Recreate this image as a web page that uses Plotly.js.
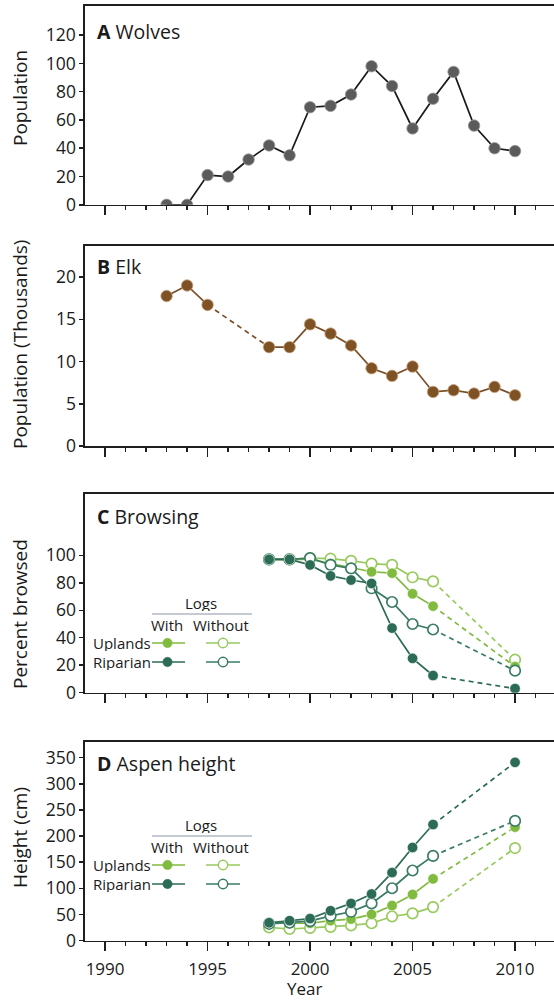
<!DOCTYPE html>
<html>
<head>
<meta charset="utf-8">
<script src="https://cdn.plot.ly/plotly-3.0.1.min.js"></script>
<style>html,body{margin:0;padding:0;background:#fff;}#chart{width:554px;height:1000px;}</style>
</head>
<body>
<div id="chart"></div>
<script>
// ---------- data ----------
const wolfYears = [1993,1994,1995,1996,1997,1998,1999,2000,2001,2002,2003,2004,2005,2006,2007,2008,2009,2010];
const wolfPop   = [0,0,21,20,32,42,35,69,70,78,98,84,54,75,94,56,40,38];

const elkYears = [1993,1994,1995,1996,1997,1998,1999,2000,2001,2002,2003,2004,2005,2006,2007,2008,2009,2010];
const elkPop   = [17.75,19.0,16.7,null,null,11.7,11.7,14.4,13.3,11.9,9.2,8.3,9.4,6.4,6.6,6.2,7.0,6.0];

const aspenYears = [1998,1999,2000,2001,2002,2003,2004,2005,2006,2010];

const browseUplandsWith     = [97,97,97,94,91,88,87,72,63,19];
const browseUplandsWithout  = [97,97,98,97.5,96,94,93,84,81,24];
const browseRiparianWith    = [97,97,93,85,82,79.5,47,25,12.5,3];
const browseRiparianWithout = [97,97,98,93,90.5,76,66,50,46,16];

const heightUplandsWith     = [35,33,33,38,41,50,67,88,118,217];
const heightUplandsWithout  = [25,22,24,26,29,33,46,52,64,177];
const heightRiparianWith    = [34,38,42,57,71,89,130,178,222,341];
const heightRiparianWithout = [32,34,37,47,55,71,100,134,162,229];

const yTicksA = [0,20,40,60,80,100,120];
const yTicksB = [0,5,10,15,20];
const yTicksC = [0,20,40,60,80,100];
const yTicksD = [0,50,100,150,200,250,300,350];
const xTicks  = [1990,1995,2000,2005,2010];

// ---------- styles ----------
const FONT = 'Open Sans, Noto Sans, sans-serif';
const AX = '#1e1e1e';
const DARK = '#2c6b55';
const DARK2 = '#3b7c66';
const LIGHT = '#80ba3e';
const LIGHT2 = '#98ca5e';
const W = 554, H = 1000;

function px(x){ return x / W; }
function py(y){ return 1 - y / H; }

const traces = [];

// Wolves
traces.push({x: wolfYears, y: wolfPop, xaxis:'x', yaxis:'y', mode:'lines+markers',
  line:{color:'#1a1a1a', width:1.7},
  marker:{size:11.5, color:'#5b5b5b', line:{color:'#9a9a9a', width:0.8}}});

// Elk: solid with gap, dashed across gap
traces.push({x: elkYears, y: elkPop, xaxis:'x2', yaxis:'y2', mode:'lines', connectgaps:false,
  line:{color:'#7a4f27', width:1.7}});
(function(){
  const gx = [], gy = [];
  for (let i = 1; i < elkPop.length; i++) {
    if (elkPop[i] === null && elkPop[i-1] !== null) { gx.push(elkYears[i-1]); gy.push(elkPop[i-1]); }
    if (elkPop[i] !== null && elkPop[i-1] === null) { gx.push(elkYears[i]); gy.push(elkPop[i]); }
  }
  traces.push({x: gx, y: gy, xaxis:'x2', yaxis:'y2', mode:'lines',
    line:{color:'#7a4f27', width:1.7, dash:'5px,4px'}});
})();
traces.push({x: elkYears, y: elkPop, xaxis:'x2', yaxis:'y2', mode:'markers',
  marker:{size:11.5, color:'#7f5225', line:{color:'#c9a27a', width:0.8}}});

function addSeries(vals, xa, ya, lineColor, markerColor, open){
  const n = aspenYears.length;
  traces.push({x: aspenYears.slice(n-2), y: vals.slice(n-2), xaxis:xa, yaxis:ya, mode:'lines',
    line:{color:lineColor, width:1.7, dash:'5px,4px'}});
  traces.push({x: aspenYears.slice(0, n-1), y: vals.slice(0, n-1), xaxis:xa, yaxis:ya, mode:'lines',
    line:{color:lineColor, width:1.7}});
  traces.push({x: aspenYears, y: vals, xaxis:xa, yaxis:ya, mode:'markers',
    marker: open ? {size:10.5, color:'#ffffff', line:{color:lineColor, width:1.7}}
                 : {size:10.5, color:markerColor, line:{color:'#ffffff', width:0.6}}});
}
addSeries(browseUplandsWithout,  'x3','y3', LIGHT2, LIGHT2, true);
addSeries(browseUplandsWith,     'x3','y3', LIGHT,  LIGHT,  false);
addSeries(browseRiparianWithout, 'x3','y3', DARK2,  DARK2,  true);
addSeries(browseRiparianWith,    'x3','y3', DARK,   DARK,   false);

addSeries(heightUplandsWithout,  'x4','y4', LIGHT2, LIGHT2, true);
addSeries(heightUplandsWith,     'x4','y4', LIGHT,  LIGHT,  false);
addSeries(heightRiparianWithout, 'x4','y4', DARK2,  DARK2,  true);
addSeries(heightRiparianWith,    'x4','y4', DARK,   DARK,   false);

// ---------- axes ----------
const xRange = [1989.02, 2011.9];
function xAxis(anchor, labels){
  return {anchor: anchor, domain:[px(85), 1], range: xRange, showgrid:false, zeroline:false,
    showline:true, linecolor:AX, linewidth:1.6, mirror:true,
    ticks:'outside', tickvals: xTicks, ticklen:9, tickwidth:1.6, tickcolor:AX,
    minor:{dtick:1, tick0:1990, ticks:'outside', ticklen:4, tickwidth:1.3, tickcolor:AX},
    showticklabels: labels, ticklabelstandoff: 3,
    tickfont:{family:FONT, size:17, color:'#1a1a1a'}, fixedrange:true};
}
function yAxis(anchor, top, bottom, range, ticks){
  return {anchor: anchor, domain:[py(bottom), py(top)], range: range, showgrid:false, zeroline:false,
    showline:true, linecolor:AX, linewidth:1.6, mirror:false,
    ticks:'outside', tickvals: ticks, ticklen:4, tickwidth:1.5, tickcolor:AX,
    tickfont:{family:FONT, size:17.5, color:'#1a1a1a'}, fixedrange:true};
}

const annotations = [];
function ann(text, x, y, size, opts){
  annotations.push(Object.assign({text: text, xref:'paper', yref:'paper', x: px(x), y: py(y),
    showarrow:false, font:{family:FONT, size:size, color:'#1a1a1a'}, xanchor:'left', yanchor:'middle'}, opts||{}));
}
// panel titles
ann('<b>A</b> Wolves', 95, 31, 19.5);
ann('<b>B</b> Elk', 95, 266, 19.5);
ann('<b>C</b> Browsing', 95, 516, 19.5);
ann('<b>D</b> Aspen height', 95, 763, 19.5);
// y titles
ann('Population', 20, 98, 19, {textangle:-90, xanchor:'center'});
ann('Population (Thousands)', 20, 345, 19, {textangle:-90, xanchor:'center'});
ann('Percent browsed', 20, 614, 19, {textangle:-90, xanchor:'center'});
ann('Height (cm)', 20, 838, 19, {textangle:-90, xanchor:'center'});
// x title
ann('Year', 304, 988, 17, {xanchor:'center'});

// inset legends
const shapes = [];
const LEG = {height:16, borderpad:0, valign:'middle'};
function legend(dy){
  ann('Logs', 201, 603 + dy, 15, Object.assign({xanchor:'center'}, LEG));
  shapes.push({type:'line', xref:'paper', yref:'paper', x0:px(152), x1:px(252), y0:py(614+dy), y1:py(614+dy),
    line:{color:'#8a93a6', width:1}});
  ann('With', 167, 625 + dy, 15, Object.assign({xanchor:'center'}, LEG));
  ann('Without', 221, 625 + dy, 15, Object.assign({xanchor:'center'}, LEG));
  const rows = [
    {label:'Uplands', y:643+dy, c:LIGHT, c2:LIGHT2},
    {label:'Riparian', y:662+dy, c:DARK, c2:DARK2}
  ];
  rows.forEach(r => {
    ann(r.label, 152, r.y, 15, Object.assign({xanchor:'right'}, LEG));
    shapes.push({type:'line', xref:'paper', yref:'paper', x0:px(152), x1:px(185), y0:py(r.y), y1:py(r.y),
      line:{color:r.c, width:1.7}});
    shapes.push({type:'circle', xref:'paper', yref:'paper', x0:px(167.5-4.7), x1:px(167.5+4.7), y0:py(r.y+4.7), y1:py(r.y-4.7),
      fillcolor:r.c, line:{color:r.c, width:0.5}});
    shapes.push({type:'line', xref:'paper', yref:'paper', x0:px(206), x1:px(240), y0:py(r.y), y1:py(r.y),
      line:{color:r.c2, width:1.7}});
    shapes.push({type:'circle', xref:'paper', yref:'paper', x0:px(223-4.7), x1:px(223+4.7), y0:py(r.y+4.7), y1:py(r.y-4.7),
      fillcolor:'#ffffff', line:{color:r.c2, width:1.5}});
  });
}
legend(0);
legend(222);

const layout = {
  width: W, height: H, margin:{l:0, r:0, t:0, b:0},
  paper_bgcolor:'#ffffff', plot_bgcolor:'#ffffff', showlegend:false,
  xaxis:  xAxis('y', false),
  xaxis2: xAxis('y2', false),
  xaxis3: xAxis('y3', false),
  xaxis4: xAxis('y4', true),
  yaxis:  yAxis('x', 6, 204.8, [0, 140.6], yTicksA),
  yaxis2: yAxis('x2', 246, 446, [0, 23.67], yTicksB),
  yaxis3: yAxis('x3', 494, 692.7, [0, 144.6], yTicksC),
  yaxis4: yAxis('x4', 742, 940.5, [0, 380], yTicksD),
  annotations: annotations,
  shapes: shapes
};

Plotly.newPlot('chart', traces, layout, {displayModeBar:false, staticPlot:true});
</script>
</body>
</html>
